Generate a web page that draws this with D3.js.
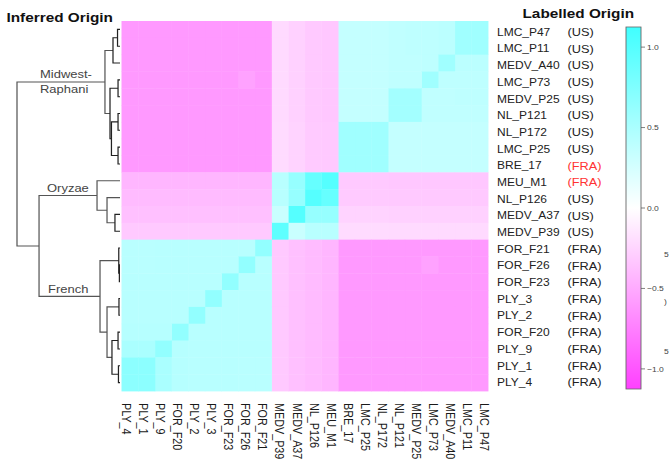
<!DOCTYPE html>
<html>
<head>
<meta charset="utf-8">
<script src="https://cdn.jsdelivr.net/npm/d3@7"></script>
<style>
  body { margin: 0; background: #fff; }
  svg { display: block; font-family: "Liberation Sans", Arial, Helvetica, sans-serif; }
</style>
</head>
<body>
<svg id="chart" width="669" height="462"></svg>
<script>
// samples, top to bottom (columns run the other way)
const samples = ["LMC_P47", "LMC_P11", "MEDV_A40", "LMC_P73", "MEDV_P25", "NL_P121", "NL_P172", "LMC_P25", "BRE_17",
  "MEU_M1", "NL_P126", "MEDV_A37", "MEDV_P39",
  "FOR_F21", "FOR_F26", "FOR_F23", "PLY_3", "PLY_2", "FOR_F20", "PLY_9", "PLY_1", "PLY_4"];
const labelled = ["US", "US", "US", "US", "US", "US", "US", "US", "FRA",
  "FRA", "US", "US", "US",
  "FRA", "FRA", "FRA", "FRA", "FRA", "FRA", "FRA", "FRA", "FRA"];
const inferred = ["Midwest", "Midwest", "Midwest", "Midwest", "Midwest", "Midwest", "Midwest", "Midwest", "Midwest",
  "Oryzae", "Oryzae", "Oryzae", "Oryzae",
  "French", "French", "French", "French", "French", "French", "French", "French", "French"];

// pairwise values, row order = samples
const corr = [
  [0.56, 0.56, 0.40, 0.38, 0.38, 0.37, 0.35, 0.35, 0.35, -0.33, -0.32, -0.27, -0.22, -0.60, -0.60, -0.60, -0.60, -0.60, -0.60, -0.60, -0.60, -0.60],
  [0.56, 0.56, 0.40, 0.38, 0.38, 0.37, 0.35, 0.35, 0.35, -0.33, -0.32, -0.27, -0.22, -0.60, -0.60, -0.60, -0.60, -0.60, -0.60, -0.60, -0.60, -0.60],
  [0.40, 0.40, 0.56, 0.38, 0.37, 0.37, 0.35, 0.35, 0.35, -0.33, -0.32, -0.27, -0.22, -0.60, -0.60, -0.60, -0.60, -0.60, -0.60, -0.60, -0.60, -0.60],
  [0.38, 0.38, 0.38, 0.56, 0.37, 0.37, 0.35, 0.35, 0.35, -0.33, -0.32, -0.27, -0.22, -0.60, -0.55, -0.60, -0.60, -0.60, -0.60, -0.60, -0.60, -0.60],
  [0.38, 0.38, 0.37, 0.37, 0.54, 0.54, 0.35, 0.35, 0.35, -0.33, -0.32, -0.27, -0.22, -0.60, -0.60, -0.60, -0.60, -0.60, -0.60, -0.60, -0.60, -0.60],
  [0.37, 0.37, 0.37, 0.37, 0.54, 0.54, 0.35, 0.35, 0.35, -0.33, -0.32, -0.27, -0.22, -0.60, -0.60, -0.60, -0.60, -0.60, -0.60, -0.60, -0.60, -0.60],
  [0.35, 0.35, 0.35, 0.35, 0.35, 0.35, 0.56, 0.56, 0.56, -0.32, -0.31, -0.26, -0.21, -0.60, -0.60, -0.60, -0.60, -0.60, -0.60, -0.60, -0.60, -0.60],
  [0.35, 0.35, 0.35, 0.35, 0.35, 0.35, 0.56, 0.56, 0.56, -0.32, -0.31, -0.26, -0.21, -0.60, -0.60, -0.60, -0.60, -0.60, -0.60, -0.60, -0.60, -0.60],
  [0.35, 0.35, 0.35, 0.35, 0.35, 0.35, 0.56, 0.56, 0.56, -0.32, -0.31, -0.26, -0.21, -0.60, -0.60, -0.60, -0.60, -0.60, -0.60, -0.60, -0.60, -0.60],
  [-0.33, -0.33, -0.33, -0.33, -0.33, -0.33, -0.32, -0.32, -0.32, 1.00, 0.90, 0.62, 0.42, -0.43, -0.43, -0.43, -0.43, -0.43, -0.43, -0.43, -0.43, -0.43],
  [-0.32, -0.32, -0.32, -0.32, -0.32, -0.32, -0.31, -0.31, -0.31, 0.90, 1.00, 0.62, 0.42, -0.40, -0.40, -0.40, -0.40, -0.40, -0.40, -0.40, -0.40, -0.40],
  [-0.27, -0.27, -0.27, -0.27, -0.27, -0.27, -0.26, -0.26, -0.26, 0.62, 0.62, 1.00, 0.32, -0.37, -0.37, -0.37, -0.37, -0.37, -0.37, -0.37, -0.37, -0.37],
  [-0.22, -0.22, -0.22, -0.22, -0.22, -0.22, -0.21, -0.21, -0.21, 0.42, 0.42, 0.32, 0.95, -0.32, -0.32, -0.32, -0.32, -0.32, -0.32, -0.32, -0.32, -0.32],
  [-0.60, -0.60, -0.60, -0.60, -0.60, -0.60, -0.60, -0.60, -0.60, -0.43, -0.40, -0.37, -0.32, 0.64, 0.42, 0.42, 0.42, 0.42, 0.42, 0.42, 0.41, 0.41],
  [-0.60, -0.60, -0.60, -0.55, -0.60, -0.60, -0.60, -0.60, -0.60, -0.43, -0.40, -0.37, -0.32, 0.42, 0.64, 0.42, 0.42, 0.42, 0.42, 0.42, 0.41, 0.41],
  [-0.60, -0.60, -0.60, -0.60, -0.60, -0.60, -0.60, -0.60, -0.60, -0.43, -0.40, -0.37, -0.32, 0.42, 0.42, 0.64, 0.42, 0.42, 0.42, 0.42, 0.42, 0.42],
  [-0.60, -0.60, -0.60, -0.60, -0.60, -0.60, -0.60, -0.60, -0.60, -0.43, -0.40, -0.37, -0.32, 0.42, 0.42, 0.42, 0.64, 0.42, 0.42, 0.42, 0.42, 0.42],
  [-0.60, -0.60, -0.60, -0.60, -0.60, -0.60, -0.60, -0.60, -0.60, -0.43, -0.40, -0.37, -0.32, 0.42, 0.42, 0.42, 0.42, 0.64, 0.42, 0.42, 0.42, 0.42],
  [-0.60, -0.60, -0.60, -0.60, -0.60, -0.60, -0.60, -0.60, -0.60, -0.43, -0.40, -0.37, -0.32, 0.42, 0.42, 0.42, 0.42, 0.42, 0.64, 0.43, 0.43, 0.43],
  [-0.60, -0.60, -0.60, -0.60, -0.60, -0.60, -0.60, -0.60, -0.60, -0.43, -0.40, -0.37, -0.32, 0.42, 0.42, 0.42, 0.42, 0.42, 0.43, 0.64, 0.50, 0.50],
  [-0.60, -0.60, -0.60, -0.60, -0.60, -0.60, -0.60, -0.60, -0.60, -0.43, -0.40, -0.37, -0.32, 0.41, 0.41, 0.42, 0.42, 0.42, 0.43, 0.50, 0.68, 0.68],
  [-0.60, -0.60, -0.60, -0.60, -0.60, -0.60, -0.60, -0.60, -0.60, -0.43, -0.40, -0.37, -0.32, 0.41, 0.41, 0.42, 0.42, 0.42, 0.43, 0.50, 0.68, 0.68]
];

// dendrogram: [merge height, left, right]; numbers are sample indices
const tree = [1.0,
  [0.146,
    [0.068, [0.024, 0, 1], 2],
    [0.097, [0.019, 3, 4], [0.083, [0.019, 5, 6], [0.019, 7, 8]]]],
  [0.786,
    [0.223, 9, [0.126, 10, [0.049, 11, 12]]],
    [0.194,
      [0.012, 13, [0.006, 14, 15]],
      [0.126, [0.010, 16, 17], [0.078, [0.019, 18, 19], [0.015, 20, 21]]]]]];

// cluster names, placed by the group they name
const clusterNames = [
  { group: "Midwest", lines: ["Midwest-", "Raphani"], dx: 23 },
  { group: "Oryzae", lines: ["Oryzae"], dx: 8 },
  { group: "French", lines: ["French"], dx: 9 }
];

const legendTicks = [1.0, 0.5, 0.0, -0.5, -1.0];
const legendMax = 1.125;

// bits of a cropped second scale at the right edge
const edgeMarks = ["5", ")", "5"];
const edgeMarkY = [254, 301, 351];

// the picture is a bit wider than tall, so everything is stretched in x
const SX = 1.12;
const X = v => v / SX;

const svg = d3.select("#chart");
const g = svg.append("g").attr("transform", "scale(" + SX + ",1)");

const cols = samples.slice().reverse();
const x = d3.scaleBand().domain(cols).range([X(121.5), X(488)]);
const y = d3.scaleBand().domain(samples).range([21, 391]);
const color = d3.scaleLinear()
  .domain([-legendMax, 0, legendMax])
  .range(["#ff40ff", "#ffffff", "#40ffff"]);

/////////////// heatmap ///////////////
const cells = [];
samples.forEach((r, i) => samples.forEach((c, j) => cells.push({ r: r, c: c, v: corr[i][j] })));

g.append("g").attr("class", "cells")
  .selectAll("rect")
  .data(cells)
  .join("rect")
  .attr("x", d => x(d.c))
  .attr("y", d => y(d.r))
  .attr("width", x.bandwidth() + 0.4)
  .attr("height", y.bandwidth() + 0.4)
  .attr("fill", d => color(d.v));

/////////////// row labels ///////////////
const yLab = d3.scalePoint().domain(samples).range([32, 382.5]);
const rowLab = g.append("g").attr("class", "rowLabels");
rowLab.selectAll("text.name")
  .data(samples)
  .join("text")
  .attr("class", "name")
  .attr("x", X(497))
  .attr("y", d => yLab(d))
  .attr("dy", "0.35em")
  .attr("font-size", 10.7)
  .attr("fill", "#222")
  .text(d => d);
rowLab.selectAll("text.origin")
  .data(samples)
  .join("text")
  .attr("class", "origin")
  .attr("x", X(567.5))
  .attr("y", d => yLab(d))
  .attr("dy", "0.35em")
  .attr("font-size", 11.4)
  .attr("fill", (d, i) => (labelled[i] === "FRA" && inferred[i] !== "French") ? "#ff3333" : "#222")
  .text((d, i) => "(" + labelled[i] + ")");

/////////////// column labels ///////////////
const xLab = d3.scalePoint().domain(cols).range([X(126.5), X(484)]);
g.append("g").attr("class", "colLabels")
  .selectAll("text")
  .data(cols)
  .join("text")
  .attr("transform", d => "translate(" + xLab(d) + ",403) rotate(90)")
  .attr("dy", "0.35em")
  .attr("font-size", 10.8)
  .attr("fill", "#1a1a1a")
  .text(d => d);

/////////////// titles ///////////////
g.append("text").attr("x", X(6.5)).attr("y", 22)
  .attr("font-size", 13.7).attr("font-weight", "bold").attr("fill", "#111")
  .text("Inferred Origin");
g.append("text").attr("x", X(522.5)).attr("y", 18.5)
  .attr("font-size", 13.7).attr("font-weight", "bold").attr("fill", "#111")
  .text("Labelled Origin");

/////////////// dendrogram ///////////////
function build(n) {
  if (typeof n === "number") return { leaf: n };
  return { h: n[0], children: [build(n[1]), build(n[2])] };
}
const root = d3.hierarchy(build(tree));
const dx = d3.scaleLinear().domain([0, 1]).range([X(120), X(17)]);
root.eachAfter(node => {
  if (!node.children) {
    node.px = dx(0);
    node.py = y(samples[node.data.leaf]) + y.bandwidth() / 2;
  } else {
    node.px = dx(node.data.h);
    node.py = (node.children[0].py + node.children[1].py) / 2;
  }
});

const elbows = root.descendants().filter(d => d.children);
g.append("g").attr("class", "dendro")
  .selectAll("path")
  .data(elbows)
  .join("path")
  .attr("d", d => {
    const a = d.children[0], b = d.children[1];
    return "M" + a.px + "," + a.py + "H" + d.px + "V" + b.py + "H" + b.px;
  })
  .attr("fill", "none")
  .attr("stroke", d => d.data.h > 0.1 ? "#555" : "#222")
  .attr("stroke-width", 1.1);

// label each cluster on the branch leading into it
const clusterNode = name => {
  let best = null;
  root.each(n => {
    if (!n.children || !n.parent) return;
    const leaves = n.leaves().map(l => inferred[l.data.leaf]);
    if (leaves.every(v => v === name) && (!best || n.depth < best.depth)) best = n;
  });
  return best;
};
clusterNames.forEach(c => {
  const n = clusterNode(c.group);
  const t = g.append("text")
    .attr("x", n.parent.px + X(c.dx))
    .attr("y", n.py - 3.5)
    .attr("font-size", 11.6)
    .attr("fill", "#444");
  c.lines.forEach((line, k) => {
    t.append("tspan")
      .attr("x", n.parent.px + X(c.dx))
      .attr("dy", k === 0 ? 0 : 14.5)
      .text(line);
  });
});

/////////////// colour legend ///////////////
const ly = d3.scaleLinear().domain([-legendMax, legendMax]).range([389, 27]);
const defs = svg.append("defs");
const grad = defs.append("linearGradient")
  .attr("id", "legendGrad")
  .attr("x1", 0).attr("y1", 0).attr("x2", 0).attr("y2", 1);
d3.range(0, 1.0001, 0.05).forEach(t => {
  grad.append("stop")
    .attr("offset", t)
    .attr("stop-color", color(legendMax - t * 2 * legendMax));
});

const legend = g.append("g").attr("class", "legend");
legend.append("rect")
  .attr("x", X(626))
  .attr("y", ly(legendMax))
  .attr("width", X(15))
  .attr("height", ly(-legendMax) - ly(legendMax))
  .attr("fill", "url(#legendGrad)")
  .attr("stroke", "#666")
  .attr("stroke-width", 0.8);

const fmt = d3.format(".1f");
legend.selectAll("line.tick")
  .data(legendTicks)
  .join("line")
  .attr("class", "tick")
  .attr("x1", X(641)).attr("x2", X(645))
  .attr("y1", d => ly(d)).attr("y2", d => ly(d))
  .attr("stroke", "#555")
  .attr("stroke-width", 0.7);
legend.selectAll("text.tickLabel")
  .data(legendTicks)
  .join("text")
  .attr("class", "tickLabel")
  .attr("x", X(647))
  .attr("y", d => ly(d))
  .attr("dy", "0.35em")
  .attr("font-size", 7.6)
  .attr("fill", "#444")
  .text(d => fmt(d));

legend.selectAll("text.edge")
  .data(edgeMarks)
  .join("text")
  .attr("class", "edge")
  .attr("x", X(664))
  .attr("y", (d, i) => edgeMarkY[i])
  .attr("dy", "0.35em")
  .attr("font-size", 7.6)
  .attr("fill", "#444")
  .text(d => d);
</script>
</body>
</html>
